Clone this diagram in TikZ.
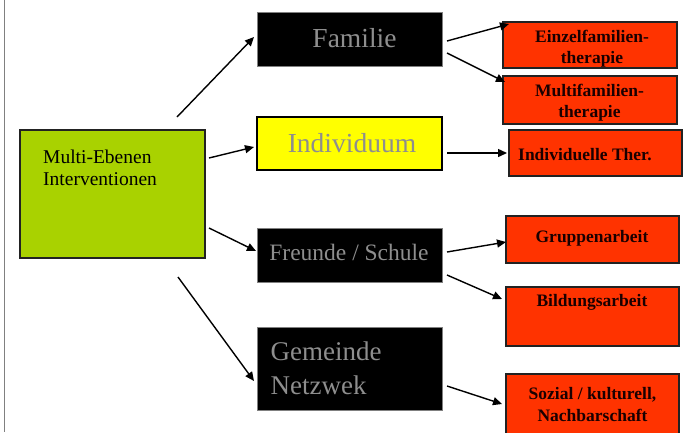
\documentclass[tikz,border=0pt]{standalone}
\usepackage{fontspec}
\setmainfont{Liberation Serif}
\usetikzlibrary{arrows.meta}
\definecolor{grn}{HTML}{A9D200}
\definecolor{ylw}{HTML}{FFFF00}
\definecolor{rd}{HTML}{FF3300}
\definecolor{gtx}{HTML}{8E8E8E}
\definecolor{rtx}{HTML}{1A0000}
\definecolor{edge}{HTML}{222222}
\begin{document}
\begin{tikzpicture}[x=1pt,y=-1pt,
  box/.style={inner sep=0pt, outer sep=0pt},
  blackbox/.style={box, fill=black, draw=gray, line width=0.8pt},
  redbox/.style={box, fill=rd, draw=edge, line width=1.4pt},
  graytext/.style={inner sep=0pt, text=gtx},
  redtext/.style={inner sep=0pt, text=rtx, font=\bfseries\fontsize{17.5}{21}\selectfont, align=center},
  arr/.style={line width=1.4pt, -{Triangle[length=9pt,width=8pt]}}]
\useasboundingbox (0,0) rectangle (690,432);
\fill[white] (0,0) rectangle (690,432);
\draw[gray, line width=1.2pt] (4.5,0) coordinate (lt) -- (4.5,432) coordinate (lb);

% main box
\node[box, fill=grn, draw=edge, line width=1.4pt, minimum width=185pt, minimum height=128pt] (main) at (112.5,194) {};
\node[inner sep=0pt, anchor=north west, align=left, font=\fontsize{19.5}{22.5}\selectfont] (maintxt) at (43,149.6) {Multi-Ebenen\\Interventionen};

% level boxes
\node[blackbox, minimum width=185pt, minimum height=54pt] (fam) at (349.5,39) {};
\node[graytext, font=\fontsize{27.5}{32}\selectfont] (famtxt) at (354.5,38) {Familie};
\node[box, fill=ylw, draw=black, line width=1.4pt, minimum width=185pt, minimum height=53pt] (ind) at (349.5,143.5) {};
\node[graytext, font=\fontsize{27.5}{32}\selectfont] (indtxt) at (352,143) {Individuum};
\node[blackbox, minimum width=185pt, minimum height=54pt] (fre) at (349.5,255) {};
\node[graytext, font=\fontsize{23.5}{28}\selectfont] (fretxt) at (349,252) {Freunde / Schule};
\node[blackbox, minimum width=185pt, minimum height=83pt] (gem) at (349.5,368.5) {};
\node[graytext, anchor=north west, align=left, font=\fontsize{27}{34}\selectfont] (gemtxt) at (270.5,341.6) {Gemeinde\\Netzwek};

% red boxes
\node[redbox, minimum width=174pt, minimum height=46pt] (ein) at (590,45) {};
\node[redtext, anchor=north, font=\bfseries\fontsize{17.5}{20.5}\selectfont] (eintxt) at (592,30) {Einzelfamilien-\\therapie};
\node[redbox, minimum width=174pt, minimum height=48pt] (mul) at (590,100) {};
\node[redtext, anchor=north, font=\bfseries\fontsize{17.5}{20.5}\selectfont] (multxt) at (589.5,84) {Multifamilien-\\therapie};
\node[redbox, minimum width=173pt, minimum height=46pt] (ith) at (595.5,153) {};
\node[redtext, anchor=base west] (ithtxt) at (518,160.5) {Individuelle Ther.};
\node[redbox, minimum width=173pt, minimum height=47pt] (gru) at (592.5,239.5) {};
\node[redtext, anchor=base] (grutxt) at (592,242.7) {Gruppenarbeit};
\node[redbox, minimum width=173pt, minimum height=59pt] (bil) at (592.5,316.5) {};
\node[redtext, anchor=base] (biltxt) at (592,306.7) {Bildungsarbeit};
\node[redbox, minimum width=173pt, minimum height=66pt] (soz) at (592.5,407) {};
\node[redtext, anchor=north, font=\bfseries\fontsize{17.5}{22}\selectfont] (soztxt) at (592.5,387) {Sozial / kulturell,\\Nachbarschaft};

% connector end points
\coordinate (a1s) at (177,117); \coordinate (a1e) at (254,37);
\coordinate (a2s) at (209,158); \coordinate (a2e) at (254,147);
\coordinate (a3s) at (209,228); \coordinate (a3e) at (256,251);
\coordinate (a4s) at (178,277); \coordinate (a4e) at (254,381);
\coordinate (b1s) at (447,41);  \coordinate (b1e) at (509,24);
\coordinate (b2s) at (447,53);  \coordinate (b2e) at (505,82);
\coordinate (b3s) at (447,153); \coordinate (b3e) at (507,153);
\coordinate (b4s) at (447,252); \coordinate (b4e) at (506,242);
\coordinate (b5s) at (447,275); \coordinate (b5e) at (502,299);
\coordinate (b6s) at (447,386); \coordinate (b6e) at (502,404);

\draw[arr] (a1s) -- (a1e);
\draw[arr] (a2s) -- (a2e);
\draw[arr] (a3s) -- (a3e);
\draw[arr] (a4s) -- (a4e);
\draw[arr] (b1s) -- (b1e);
\draw[arr] (b2s) -- (b2e);
\draw[arr] (b3s) -- (b3e);
\draw[arr] (b4s) -- (b4e);
\draw[arr] (b5s) -- (b5e);
\draw[arr] (b6s) -- (b6e);
\end{tikzpicture}
\end{document}
